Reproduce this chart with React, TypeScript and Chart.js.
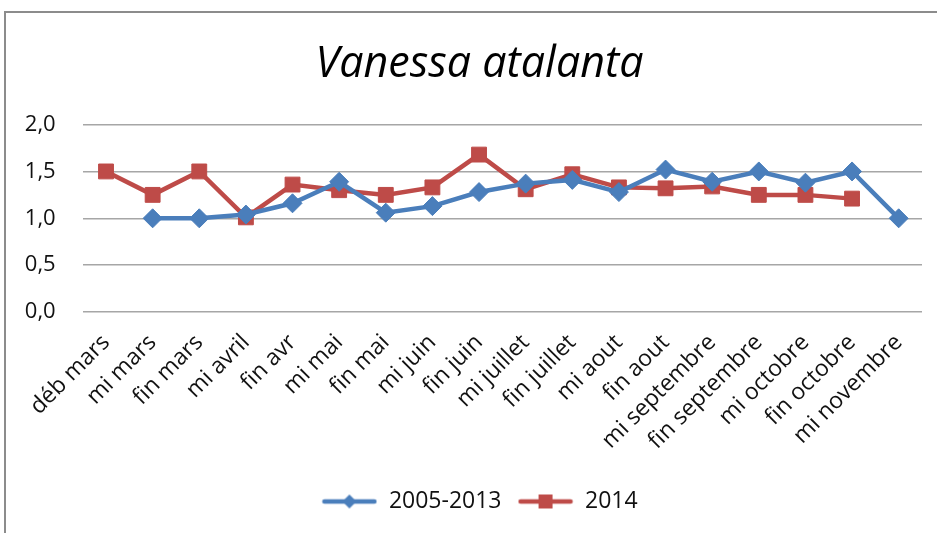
import React, { useEffect, useRef } from "react";
import { Chart, registerables } from "chart.js";

Chart.register(...registerables);

const categories = [
  "déb mars", "mi mars", "fin mars", "mi avril", "fin avr", "mi mai", "fin mai",
  "mi juin", "fin juin", "mi juillet", "fin juillet", "mi aout", "fin aout",
  "mi septembre", "fin septembre", "mi octobre", "fin octobre", "mi novembre",
];
const series2005_2013 = [null, 1.0, 1.0, 1.04, 1.16, 1.39, 1.06, 1.13, 1.28, 1.37, 1.41, 1.28, 1.52, 1.39, 1.5, 1.38, 1.5, 1.0];
const series2014 = [1.5, 1.25, 1.5, 1.01, 1.36, 1.3, 1.25, 1.33, 1.68, 1.31, 1.47, 1.33, 1.32, 1.34, 1.25, 1.25, 1.21, null];
const seriesNames = ["2005-2013", "2014"];
const yTicks = [0, 0.5, 1.0, 1.5, 2.0];

const BLUE = "#4a7ebb";
const RED = "#be4b48";
const FONT = "'Open Sans', 'Noto Sans', sans-serif";

function makeLegendIcon(color: string, style: "diamond" | "square"): HTMLCanvasElement {
  const c = document.createElement("canvas");
  c.width = 56;
  c.height = 20;
  const ctx = c.getContext("2d")!;
  ctx.strokeStyle = color;
  ctx.lineWidth = 4.5;
  ctx.lineCap = "round";
  ctx.beginPath();
  ctx.moveTo(3, 10);
  ctx.lineTo(53, 10);
  ctx.stroke();
  ctx.fillStyle = color;
  ctx.beginPath();
  if (style === "diamond") {
    ctx.moveTo(28, 3);
    ctx.lineTo(35, 10);
    ctx.lineTo(28, 17);
    ctx.lineTo(21, 10);
    ctx.closePath();
  } else {
    ctx.rect(21, 3, 14, 14);
  }
  ctx.fill();
  return c;
}

export default function App() {
  const ref = useRef<HTMLCanvasElement | null>(null);

  useEffect(() => {
    if (!ref.current) return;
    const icons = [makeLegendIcon(BLUE, "diamond"), makeLegendIcon(RED, "square")];
    const chart = new Chart(ref.current, {
      type: "line",
      data: {
        labels: categories,
        datasets: [
          {
            label: seriesNames[0],
            data: series2005_2013,
            borderColor: BLUE,
            backgroundColor: BLUE,
            borderWidth: 4.5,
            pointStyle: "rectRot",
            pointRadius: 9.5,
            pointBorderWidth: 1,
            pointBackgroundColor: BLUE,
            pointBorderColor: BLUE,
            tension: 0,
          },
          {
            label: seriesNames[1],
            data: series2014,
            borderColor: RED,
            backgroundColor: RED,
            borderWidth: 4.5,
            pointStyle: "rect",
            pointRadius: 10.5,
            pointBorderWidth: 1,
            pointBackgroundColor: RED,
            pointBorderColor: RED,
            tension: 0,
          },
        ],
      },
      options: {
        animation: false,
        responsive: false,
        maintainAspectRatio: false,
        layout: { padding: { left: 22, right: 0, top: 0, bottom: 10 } },
        scales: {
          x: {
            offset: true,
            grid: { display: false },
            border: { display: false },
            ticks: {
              autoSkip: false,
              maxRotation: 45,
              minRotation: 45,
              padding: 9,
              color: "#111",
              font: { family: FONT, size: 23 },
            },
            afterFit: (s: any) => {
              s.height = 162;
            },
          },
          y: {
            min: 0,
            max: 2,
            afterBuildTicks: (s: any) => {
              s.ticks = yTicks.map((v) => ({ value: v }));
            },
            grid: { color: "#a6a6a6", lineWidth: 1.6, drawTicks: false },
            border: { display: false },
            ticks: {
              padding: 27,
              color: "#111",
              font: { family: FONT, size: 22 },
              callback: (v: any) => Number(v).toFixed(1).replace(".", ","),
            },
            afterFit: (s: any) => {
              s.width = 60.7;
            },
          },
          yRight: {
            position: "right",
            display: true,
            grid: { display: false, drawTicks: false },
            border: { display: false },
            ticks: { display: false },
            afterFit: (s: any) => {
              s.width = 15;
            },
          },
        },
        plugins: {
          title: {
            display: true,
            text: "Vanessa atalanta",
            color: "#000",
            font: { family: FONT, size: 43, style: "italic", weight: "normal", lineHeight: 1.2 },
            padding: { top: 39, bottom: 34 },
          },
          legend: {
            position: "bottom",
            labels: {
              usePointStyle: true,
              pointStyleWidth: 56,
              padding: 16,
              color: "#111",
              font: { family: FONT, size: 23 },
              generateLabels: (ch: any) =>
                ch.data.datasets.map((ds: any, i: number) => ({
                  text: ds.label,
                  fillStyle: ds.borderColor,
                  strokeStyle: ds.borderColor,
                  lineWidth: 0,
                  pointStyle: icons[i],
                  datasetIndex: i,
                  hidden: false,
                  fontColor: "#111",
                })),
            },
          },
          tooltip: { enabled: false },
        },
      },
    });
    return () => chart.destroy();
  }, []);

  return (
    <div style={{ position: "fixed", left: 0, top: 0, width: 937, height: 533, overflow: "hidden", background: "#fff" }}>
      <div
        style={{
          position: "absolute",
          left: 4,
          top: 11,
          width: 1000,
          height: 700,
          border: "2px solid #8c8c8c",
          boxSizing: "border-box",
        }}
      />
      <canvas ref={ref} width={937} height={533} style={{ position: "absolute", left: 0, top: 0, width: 937, height: 533 }} />
    </div>
  );
}
